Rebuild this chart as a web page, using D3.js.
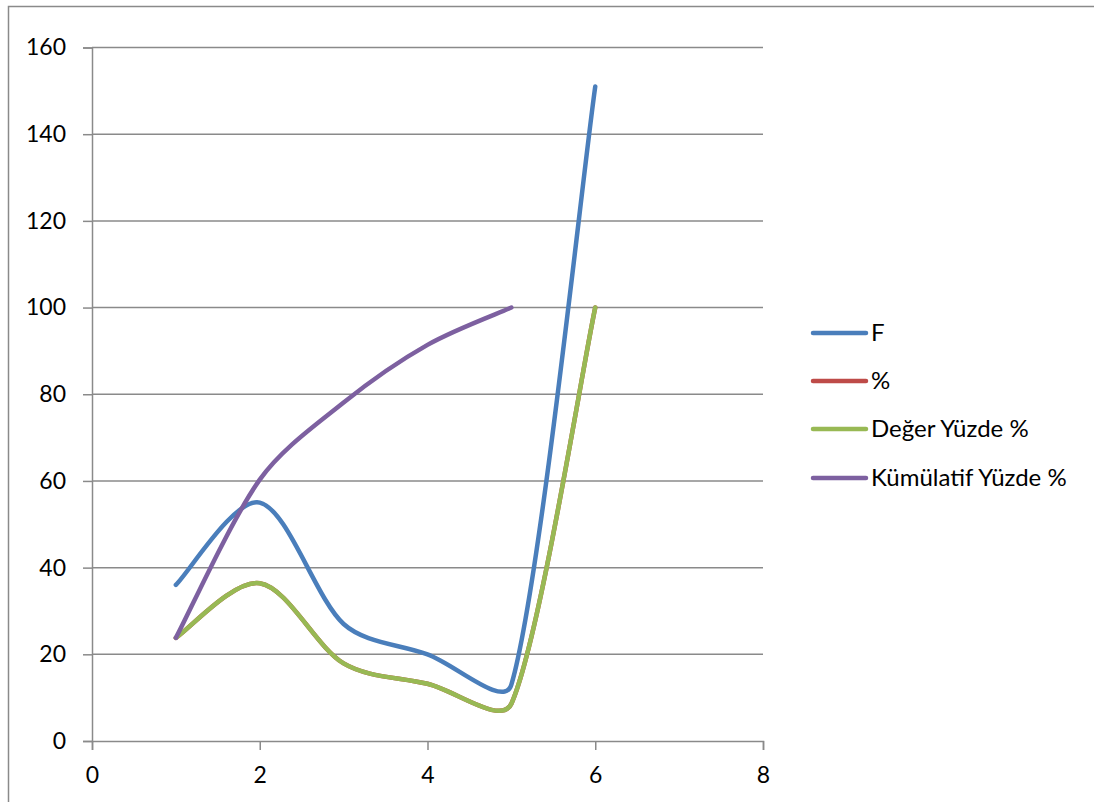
<!DOCTYPE html>
<html><head><meta charset="utf-8">
<script src="https://cdn.jsdelivr.net/npm/d3@7"></script>
<style>body{margin:0;background:#fff}svg{display:block}</style>
</head><body>
<script>
const xValues = [1, 2, 3, 4, 5, 6];
const seriesF = [36, 55, 27, 20, 13, 151];
const seriesPct = [23.8, 36.4, 17.9, 13.2, 8.6, 100];
const seriesDeger = [23.8, 36.4, 17.9, 13.2, 8.6, 100];
const seriesKum = [23.8, 60.3, 78.1, 91.4, 100];
const seriesNames = ["F", "%", "Değer Yüzde %", "Kümülatif Yüzde %"];
const seriesColors = ["#4A7EBB", "#BE4B48", "#98B954", "#7D60A0"];
const xTicks = [0, 2, 4, 6, 8];
const yTicks = [0, 20, 40, 60, 80, 100, 120, 140, 160];

const W = 1094, H = 802;
const svg = d3.select("body").append("svg").attr("width", W).attr("height", H);
const font = "Lato, 'Open Sans', sans-serif";

svg.append("rect").attr("x", 8.5).attr("y", 6.5).attr("width", 1200).attr("height", 1000)
  .attr("fill", "none").attr("stroke", "#8a8a8a").attr("stroke-width", 1.5);

const x = d3.scaleLinear().domain([0, 8]).range([92, 763]);
const y = d3.scaleLinear().domain([0, 160]).range([741, 47.5]);

// gridlines
svg.append("g").selectAll("line").data(yTicks.filter(d => d > 0)).join("line")
  .attr("x1", x(0)).attr("x2", x(8)).attr("y1", d => y(d)).attr("y2", d => y(d))
  .attr("stroke", "#8a8a8a").attr("stroke-width", 1.5);

const yAxis = svg.append("g").attr("transform", `translate(${x(0)},0)`)
  .call(d3.axisLeft(y).tickValues(yTicks).tickSize(9).tickPadding(17));
const xAxis = svg.append("g").attr("transform", `translate(0,${y(0)})`)
  .call(d3.axisBottom(x).tickValues(xTicks).tickSize(9).tickPadding(17));
[yAxis, xAxis].forEach(a => {
  a.select(".domain").attr("stroke", "#8a8a8a").attr("stroke-width", 1.5);
  a.selectAll(".tick line").attr("stroke", "#8a8a8a").attr("stroke-width", 1.5);
  a.selectAll(".tick text").attr("fill", "#000").style("font-family", font).style("font-size", "23px");
});

// Excel-like smoothed line: Bezier, tangent (P[i+1]-P[i-1]) scaled by chord length, capped at 1/6
function smoothPath(pts) {
  const p = d3.path();
  const n = pts.length;
  const dist = (a, b) => Math.hypot(b[0] - a[0], b[1] - a[1]);
  p.moveTo(pts[0][0], pts[0][1]);
  for (let i = 0; i < n - 1; i++) {
    const p0 = pts[Math.max(0, i - 1)], p1 = pts[i], p2 = pts[i + 1], p3 = pts[Math.min(n - 1, i + 2)];
    const d01 = dist(p0, p1), d12 = dist(p1, p2), d23 = dist(p2, p3);
    const f1 = Math.min(1 / 6, d12 / (d01 + d12) / 3);
    const f2 = Math.min(1 / 6, d12 / (d12 + d23) / 3);
    p.bezierCurveTo(
      p1[0] + (p2[0] - p0[0]) * f1, p1[1] + (p2[1] - p0[1]) * f1,
      p2[0] - (p3[0] - p1[0]) * f2, p2[1] - (p3[1] - p1[1]) * f2,
      p2[0], p2[1]);
  }
  return p.toString();
}

const allSeries = [seriesF, seriesPct, seriesDeger, seriesKum];
allSeries.forEach((s, i) => {
  const pts = s.map((v, j) => [x(xValues[j]), y(v)]);
  svg.append("path").attr("d", smoothPath(pts)).attr("fill", "none")
    .attr("stroke", seriesColors[i]).attr("stroke-width", 4.5)
    .attr("stroke-linecap", "round").attr("stroke-linejoin", "round");
});

// legend
const legY = [333, 381, 429, 478];
const leg = svg.append("g");
seriesNames.forEach((n, i) => {
  leg.append("line").attr("x1", 813).attr("x2", 866).attr("y1", legY[i]).attr("y2", legY[i])
    .attr("stroke", seriesColors[i]).attr("stroke-width", 4.5).attr("stroke-linecap", "round");
  leg.append("text").attr("x", 871).attr("y", legY[i]).attr("dy", "0.35em")
    .style("font-family", font).style("font-size", "24px").text(n);
});
</script>
</body></html>
